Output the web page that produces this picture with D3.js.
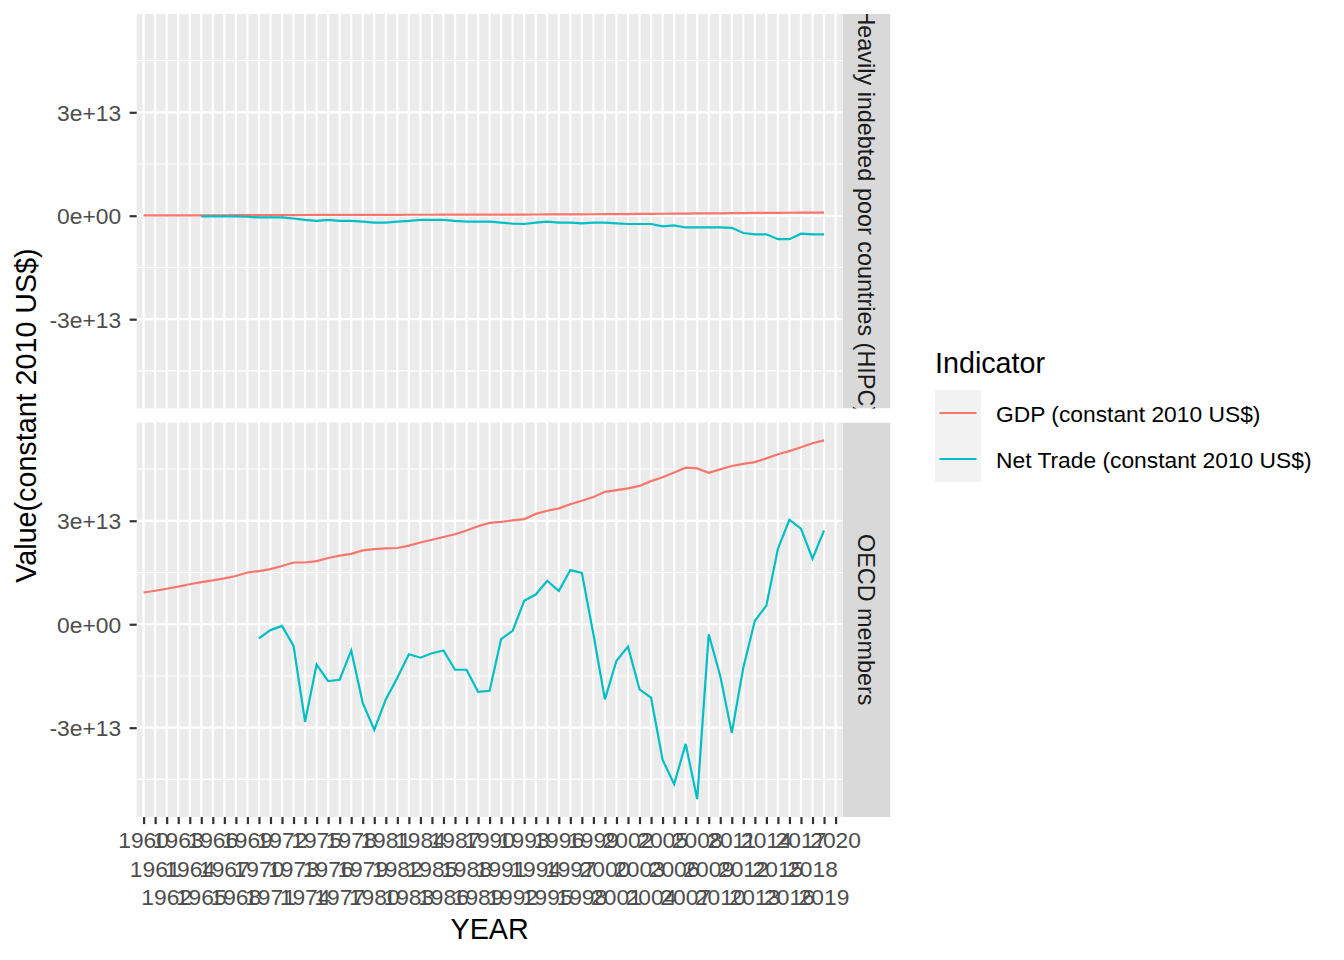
<!DOCTYPE html>
<html lang="en">
<head>
  <meta charset="UTF-8" />
  <title>GDP and Net Trade by group</title>
  <style>
    body { margin: 0; background: #fff; font-family: "Liberation Sans", Arial, sans-serif; }
    svg text { font-family: "Liberation Sans", Arial, sans-serif; }
  </style>
</head>
<body>
  <div id="chart"></div>
  <script src="https://d3js.org/d3.v7.min.js"></script>
  <script>
    // categories: every year on the discrete x axis
    var years = [1960,1961,1962,1963,1964,1965,1966,1967,1968,1969,
                 1970,1971,1972,1973,1974,1975,1976,1977,1978,1979,
                 1980,1981,1982,1983,1984,1985,1986,1987,1988,1989,
                 1990,1991,1992,1993,1994,1995,1996,1997,1998,1999,
                 2000,2001,2002,2003,2004,2005,2006,2007,2008,2009,
                 2010,2011,2012,2013,2014,2015,2016,2017,2018,2019,2020];

    var groups = ["Heavily indebted poor countries (HIPC)", "OECD members"];
    var indicators = ["GDP (constant 2010 US$)", "Net Trade (constant 2010 US$)"];
    var colors = ["#F8766D", "#00BFC4"];

    // values in units of 1e13 (constant 2010 US$), one per year, null = missing
    var hipcGdp = [0.010,0.011,0.011,0.012,0.012,0.013,0.014,0.014,0.015,0.016,
                   0.017,0.018,0.019,0.020,0.021,0.022,0.023,0.024,0.025,0.025,
                   0.026,0.027,0.027,0.028,0.028,0.029,0.030,0.031,0.032,0.033,
                   0.034,0.034,0.035,0.035,0.036,0.037,0.039,0.040,0.042,0.043,
                   0.045,0.047,0.049,0.051,0.054,0.057,0.060,0.063,0.066,0.068,
                   0.071,0.074,0.077,0.080,0.083,0.085,0.087,0.089,0.091,0.093,null];
    var hipcTrade = [null,null,null,null,null,-0.02,-0.02,-0.02,-0.02,-0.03,
                     -0.05,-0.05,-0.05,-0.08,-0.12,-0.15,-0.12,-0.15,-0.15,-0.17,
                     -0.20,-0.20,-0.17,-0.15,-0.12,-0.12,-0.12,-0.15,-0.17,-0.17,
                     -0.17,-0.20,-0.23,-0.24,-0.20,-0.17,-0.20,-0.20,-0.22,-0.20,
                     -0.20,-0.22,-0.24,-0.24,-0.24,-0.31,-0.28,-0.34,-0.34,-0.34,
                     -0.34,-0.35,-0.50,-0.54,-0.54,-0.68,-0.68,-0.52,-0.54,-0.54,null];
    var oecdGdp = [0.92,0.97,1.03,1.09,1.16,1.22,1.27,1.33,1.40,1.50,
                   1.54,1.60,1.69,1.79,1.79,1.83,1.92,1.99,2.04,2.14,
                   2.18,2.20,2.21,2.28,2.37,2.45,2.53,2.61,2.72,2.84,
                   2.94,2.97,3.01,3.05,3.20,3.29,3.36,3.48,3.58,3.69,
                   3.84,3.89,3.94,4.01,4.15,4.26,4.40,4.54,4.52,4.39,
                   4.49,4.59,4.65,4.70,4.81,4.93,5.02,5.13,5.25,5.33,null];
    var oecdTrade = [null,null,null,null,null,null,null,null,null,null,
                     -0.41,-0.17,-0.05,-0.63,-2.83,-1.17,-1.65,-1.61,-0.76,-2.28,
                     -3.06,-2.18,-1.55,-0.87,-0.97,-0.84,-0.76,-1.32,-1.32,-1.96,
                     -1.93,-0.43,-0.19,0.68,0.86,1.26,0.96,1.57,1.49,-0.29,
                     -2.18,-1.06,-0.65,-1.89,-2.13,-3.93,-4.64,-3.47,-5.07,-0.29,
                     -1.50,-3.15,-1.26,0.10,0.54,2.19,3.03,2.77,1.90,2.72,null];
    var unit = 1e13;

    var yTicks = [-3e13, 0, 3e13];
    var yTickLabels = ["-3e+13", "0e+00", "3e+13"];
    var yMinorTicks = [-4.5e13, -1.5e13, 1.5e13, 4.5e13];

    var series = [
      [hipcGdp, hipcTrade],
      [oecdGdp, oecdTrade]
    ];

    // layout
    var width = 1344, height = 960;
    var left = 136.7, right = 842.5;
    var panelTops = [14, 422.5], panelH = 394.5;
    var stripW = 48;
    var textSize = "22.8px", titleSize = "28.7px";

    var svg = d3.select("#chart").append("svg")
      .attr("width", width).attr("height", height);

    var x = d3.scalePoint()
      .domain(years)
      .range([left, right])
      .padding(0.6);

    // fixed y scale, shared by both panels, 5% expansion
    var allVals = [];
    series.forEach(function(g) { g.forEach(function(s) { s.forEach(function(v) { if (v != null) allVals.push(v * unit); }); }); });
    var lo = d3.min(allVals), hi = d3.max(allVals), pad = (hi - lo) * 0.05;

    var line = d3.line()
      .defined(function(d) { return d.v != null; })
      .x(function(d) { return x(d.year); })
      .y(function(d) { return d.yScale(d.v * unit); });

    var defs = svg.append("defs");

    groups.forEach(function(name, gi) {
      var top = panelTops[gi];
      var y = d3.scaleLinear().domain([lo - pad, hi + pad]).range([top + panelH, top]);

      var g = svg.append("g");
      g.append("rect")
        .attr("x", left).attr("y", top)
        .attr("width", right - left).attr("height", panelH)
        .attr("fill", "#EBEBEB");

      // grid
      g.selectAll(".minor").data(yMinorTicks).enter().append("line")
        .attr("x1", left).attr("x2", right)
        .attr("y1", function(d) { return y(d); }).attr("y2", function(d) { return y(d); })
        .attr("stroke", "#fff").attr("stroke-width", 1.1);
      g.selectAll(".major").data(yTicks).enter().append("line")
        .attr("x1", left).attr("x2", right)
        .attr("y1", function(d) { return y(d); }).attr("y2", function(d) { return y(d); })
        .attr("stroke", "#fff").attr("stroke-width", 2.2);
      g.selectAll(".vgrid").data(years).enter().append("line")
        .attr("x1", function(d) { return x(d); }).attr("x2", function(d) { return x(d); })
        .attr("y1", top).attr("y2", top + panelH)
        .attr("stroke", "#fff").attr("stroke-width", 2.2);

      // lines
      defs.append("clipPath").attr("id", "clip" + gi)
        .append("rect").attr("x", left).attr("y", top)
        .attr("width", right - left).attr("height", panelH);
      series[gi].forEach(function(vals, si) {
        var pts = years.map(function(yr, i) { return {year: yr, v: vals[i], yScale: y}; });
        g.append("path")
          .datum(pts)
          .attr("clip-path", "url(#clip" + gi + ")")
          .attr("fill", "none")
          .attr("stroke", colors[si])
          .attr("stroke-width", 2.2)
          .attr("d", line);
      });

      // y axis
      var ya = svg.append("g")
        .attr("transform", "translate(" + left + ",0)")
        .call(d3.axisLeft(y).tickValues(yTicks).tickSize(7.1).tickPadding(8.5)
          .tickFormat(function(d, i) { return yTickLabels[i]; }));
      ya.select(".domain").remove();
      ya.selectAll(".tick line").attr("stroke", "#333333").attr("stroke-width", 2.2);
      ya.selectAll(".tick text").attr("fill", "#4D4D4D")
        .style("font-size", textSize).attr("dy", "0.36em");

      // strip
      defs.append("clipPath").attr("id", "sclip" + gi)
        .append("rect").attr("x", right).attr("y", top)
        .attr("width", stripW).attr("height", panelH);
      var st = svg.append("g").attr("clip-path", "url(#sclip" + gi + ")");
      st.append("rect")
        .attr("x", right).attr("y", top)
        .attr("width", stripW).attr("height", panelH)
        .attr("fill", "#D9D9D9");
      st.append("text")
        .attr("transform", "translate(" + (right + 15.5) + "," + (top + panelH / 2) + ") rotate(90)")
        .attr("text-anchor", "middle")
        .attr("fill", "#1A1A1A")
        .style("font-size", "23.4px")
        .text(name);
    });

    // x axis, labels dodged over three rows
    var bottom = panelTops[1] + panelH;
    var xa = svg.append("g")
      .attr("transform", "translate(0," + bottom + ")")
      .call(d3.axisBottom(x).tickSize(7.1).tickFormat(""));
    xa.select(".domain").remove();
    xa.selectAll(".tick line").attr("stroke", "#333333").attr("stroke-width", 2.2);

    var rowBase = [847.7, 876.5, 905.2];
    svg.append("g").selectAll("text").data(years).enter().append("text")
      .attr("x", function(d) { return x(d); })
      .attr("y", function(d, i) { return rowBase[i % 3]; })
      .attr("text-anchor", "middle")
      .attr("fill", "#4D4D4D")
      .style("font-size", textSize)
      .text(function(d) { return d; });

    // axis titles
    svg.append("text")
      .attr("x", (left + right) / 2).attr("y", 939.3)
      .attr("text-anchor", "middle")
      .style("font-size", titleSize)
      .text("YEAR");
    svg.append("text")
      .attr("transform", "translate(35.5," + (panelTops[0] + (bottom - panelTops[0]) / 2) + ") rotate(-90)")
      .attr("text-anchor", "middle")
      .style("font-size", titleSize)
      .text("Value(constant 2010 US$)");

    // legend
    var leg = svg.append("g");
    leg.append("text")
      .attr("x", 935).attr("y", 373.3)
      .style("font-size", titleSize)
      .text("Indicator");
    indicators.forEach(function(lab, i) {
      var ky = 390 + i * 46;
      leg.append("rect")
        .attr("x", 935).attr("y", ky)
        .attr("width", 46).attr("height", 46)
        .attr("fill", "#F2F2F2");
      leg.append("line")
        .attr("x1", 939.5).attr("x2", 976.5)
        .attr("y1", ky + 23).attr("y2", ky + 23)
        .attr("stroke", colors[i]).attr("stroke-width", 2.2);
      leg.append("text")
        .attr("x", 996).attr("y", ky + 31.5)
        .style("font-size", textSize)
        .text(lab);
    });
  </script>
</body>
</html>
